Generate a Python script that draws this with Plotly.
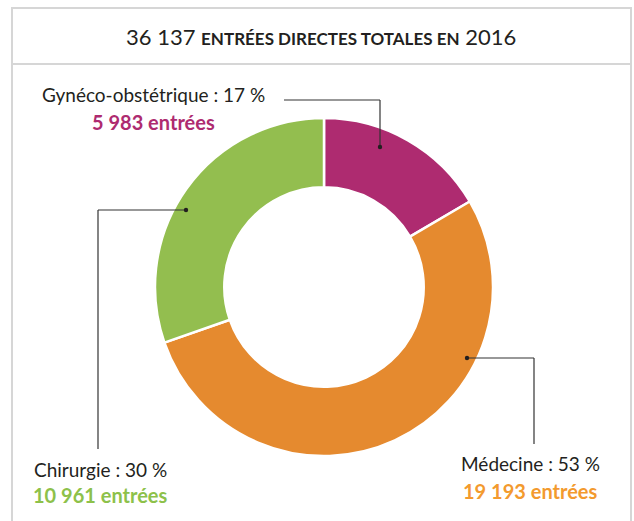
import plotly.graph_objects as go

W, H = 634, 521

labels = ["Gynéco-obstétrique", "Médecine", "Chirurgie"]
entrees = [5983, 19193, 10961]
pcts = [17, 53, 30]
slice_colors = ["#AE2B70", "#E58A2F", "#93BE4F"]
text_colors = ["#AE2B70", "#F39A2E", "#8DC14A"]
total = 36137
year = 2016

FONT = "Lato"
DARK = "#231F20"


def px(x):
    return x / W


def py(y):
    return 1 - y / H


def fmt(n):
    return f"{n:,}".replace(",", " ")


fig = go.Figure()
fig.add_trace(go.Pie(
    labels=labels, values=entrees, hole=0.59, sort=False, direction="clockwise",
    rotation=0, textinfo="none", hoverinfo="label+value+percent",
    marker=dict(colors=slice_colors, line=dict(color="white", width=2.5)),
    domain=dict(x=[px(155), px(493)], y=[py(456), py(118)]),
    showlegend=False,
))

# frame + title separator
shapes = [
    dict(type="rect", xref="paper", yref="paper", x0=px(12), x1=px(631), y0=py(530), y1=py(8),
         line=dict(color="#D6D6D6", width=2)),
    dict(type="line", xref="paper", yref="paper", x0=px(12), x1=px(631), y0=py(64), y1=py(64),
         line=dict(color="#D6D6D6", width=2)),
]

# leader lines: (text end / corner / dot)
leaders = [
    [(284, 100), (380, 100), (380, 147)],
    [(467, 358), (534, 358), (534, 444)],
    [(186, 210), (98, 210), (98, 449)],
]
for pts in leaders:
    for (xa, ya), (xb, yb) in zip(pts[:-1], pts[1:]):
        shapes.append(dict(type="line", xref="paper", yref="paper", x0=px(xa), y0=py(ya),
                           x1=px(xb), y1=py(yb), line=dict(color="#333333", width=1.2)))
dots = [(380, 147), (467, 358), (186, 210)]
for (xd, yd) in dots:
    shapes.append(dict(type="circle", xref="paper", yref="paper", x0=px(xd - 2.2), x1=px(xd + 2.2),
                       y0=py(yd + 2.2), y1=py(yd - 2.2), fillcolor="#231F20", line=dict(width=0)))

annotations = [
    dict(text=f"{fmt(total)} <b><span style='font-size:17px'>ENTRÉES DIRECTES TOTALES EN</span></b> {year}",
         x=px(321), y=py(37), xref="paper", yref="paper", showarrow=False,
         font=dict(family=FONT, size=22, color=DARK), xanchor="center", yanchor="middle"),
]
label_pos = [(153, 94, 122), (530, 463, 491), (100, 469, 495)]
for lab, n, p, c, (xc, y1, y2) in zip(labels, entrees, pcts, text_colors, label_pos):
    annotations.append(dict(text=f"{lab} : {p} %", x=px(xc), y=py(y1), xref="paper", yref="paper",
                            showarrow=False, font=dict(family=FONT, size=19, color=DARK),
                            xanchor="center", yanchor="middle"))
    annotations.append(dict(text=f"<b>{fmt(n)} entrées</b>", x=px(xc), y=py(y2), xref="paper",
                            yref="paper", showarrow=False, font=dict(family=FONT, size=20, color=c),
                            xanchor="center", yanchor="middle"))

fig.update_layout(
    width=W, height=H, margin=dict(l=0, r=0, t=0, b=0),
    paper_bgcolor="white", plot_bgcolor="white",
    shapes=shapes, annotations=annotations,
)

fig.write_html("out.html", config={"displayModeBar": False},
               post_script="document.body.style.margin='0';")
